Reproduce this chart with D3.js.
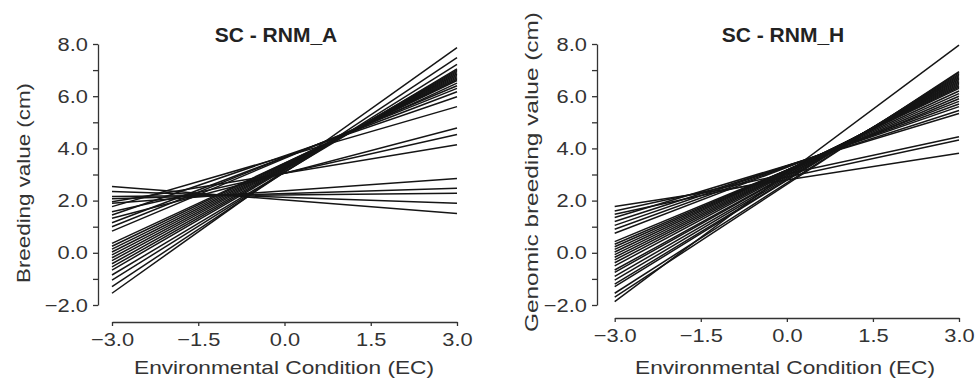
<!DOCTYPE html>
<html>
<head>
<meta charset="utf-8">
<script src="https://cdn.jsdelivr.net/npm/d3@7"></script>
<style>
  body { margin: 0; background: #fff; }
  svg { display: block; font-family: "Liberation Sans", Arial, sans-serif; }
</style>
</head>
<body>
<div id="chart"></div>
<script>
// values: each reaction norm is given by its value at EC = -3 and EC = 3
const ecTicks = [-3, -1.5, 0, 1.5, 3];
const valueTicks = [-2, -1, 0, 1, 2, 3, 4, 5, 6, 7, 8];
const titles = ["SC - RNM_A", "SC - RNM_H"];
const yLabels = ["Breeding value (cm)", "Genomic breeding value (cm)"];
const xLabel = "Environmental Condition (EC)";

const rnmAStart = [2.54, 2.35, 2.16, 2.07, 1.90,
  1.96, 1.57, 1.32,
  1.77, 1.45, 1.15, 1.00, 0.83,
  0.36, 0.25, 0.14, 0.03, -0.08, -0.19, -0.30, -0.42, -0.54, -0.66,
  -0.85, -1.05, -1.30, -1.55];
const rnmAEnd = [1.51, 1.90, 2.28, 2.47, 2.85,
  4.14, 4.53, 4.78,
  5.60, 5.98, 6.17, 6.30, 6.40,
  6.50, 6.60, 6.65, 6.70, 6.75, 6.80, 6.85, 6.90, 6.95, 7.00,
  7.05, 7.22, 7.48, 7.86];

const rnmHStart = [1.77, 1.60, 1.48,
  1.35, 1.20, 1.05, 0.90, 0.75,
  0.43, 0.33, 0.23, 0.13, 0.03, -0.07, -0.17, -0.27, -0.38, -0.50, -0.66,
  -0.75, -0.90, -1.05, -1.20, -1.30, -1.55, -1.70, -1.87];
const rnmHEnd = [3.81, 4.45, 4.32,
  5.34, 5.45, 5.60, 5.70, 5.80,
  5.90, 6.00, 6.10, 6.20, 6.30, 6.35, 6.40, 6.45, 6.50, 6.55, 6.60,
  6.65, 6.70, 6.75, 6.80, 6.85, 6.90, 6.94, 7.96];

const W = 976, H = 379;
const svg = d3.select("#chart").append("svg")
  .attr("width", W).attr("height", H);

// panel geometry (pixels)
const panels = [
  { start: rnmAStart, end: rnmAEnd, x0: 112, x1: 457, yAxisX: 98, xAxisY: 322,
    titleX: 276, yLabX: 30, yLabY: 183, yLabLen: 200, xLabX: 284 },
  { start: rnmHStart, end: rnmHEnd, x0: 614.7, x1: 959, yAxisX: 597, xAxisY: 318,
    titleX: 783, yLabX: 538, yLabY: 172, yLabLen: 320, xLabX: 785 }
];

const textColor = "#333";

panels.forEach(function (p, k) {
  const x = d3.scaleLinear().domain([-3, 3]).range([p.x0, p.x1]);
  const y = d3.scaleLinear().domain([-2, 8]).range([305, 44]);

  const g = svg.append("g");

  // y axis
  const yAxis = g.append("g")
    .attr("transform", `translate(${p.yAxisX},0)`)
    .call(d3.axisLeft(y)
      .tickValues(valueTicks)
      .tickSize(5)
      .tickSizeOuter(0)
      .tickPadding(3.7)
      .tickFormat(d => d % 2 === 0 ? d3.format(".1f")(d) : ""));

  // x axis
  const xAxis = g.append("g")
    .attr("transform", `translate(0,${p.xAxisY})`)
    .call(d3.axisBottom(x)
      .tickValues(ecTicks)
      .tickSize(4)
      .tickSizeOuter(0)
      .tickPadding(7)
      .tickFormat(d3.format(".1f")));

  [yAxis, xAxis].forEach(function (ax) {
    ax.selectAll("path, line").attr("stroke", "#333").attr("stroke-width", 1.3);
    ax.selectAll("text")
      .attr("font-family", "Liberation Sans, Arial, sans-serif")
      .attr("font-size", 19)
      .attr("fill", textColor)
      .attr("transform", "scale(1.15,1)");
  });

  // reaction norms
  const line = d3.line().x(d => x(d.ec)).y(d => y(d.v));
  const norms = p.start.map((s, i) => [{ ec: -3, v: s }, { ec: 3, v: p.end[i] }]);
  g.append("g").selectAll("path")
    .data(norms)
    .enter().append("path")
    .attr("d", line)
    .attr("fill", "none")
    .attr("stroke", "#151515")
    .attr("stroke-width", 1.5);

  // title
  g.append("text")
    .attr("x", p.titleX).attr("y", 42)
    .attr("text-anchor", "middle")
    .attr("font-size", 21)
    .attr("font-weight", "bold")
    .attr("fill", "#222")
    .text(titles[k]);

  // y label
  g.append("text")
    .attr("transform", `translate(${p.yLabX},${p.yLabY}) rotate(-90)`)
    .attr("text-anchor", "middle")
    .attr("font-size", 19)
    .attr("fill", textColor)
    .attr("textLength", p.yLabLen)
    .attr("lengthAdjust", "spacingAndGlyphs")
    .text(yLabels[k]);

  // x label
  g.append("text")
    .attr("x", p.xLabX).attr("y", 374)
    .attr("text-anchor", "middle")
    .attr("font-size", 19)
    .attr("fill", textColor)
    .attr("textLength", 300)
    .attr("lengthAdjust", "spacingAndGlyphs")
    .text(xLabel);
});
</script>
</body>
</html>
